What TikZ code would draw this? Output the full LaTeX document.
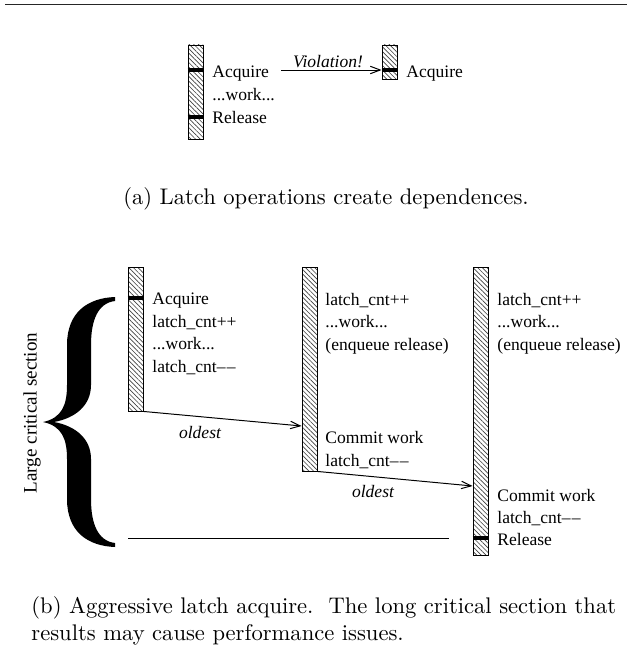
\documentclass[tikz,border=0pt]{standalone}
\usepackage{fontspec}
\newfontfamily\tms{Liberation Serif}
\usetikzlibrary{patterns.meta,fit,arrows.meta}
\newcommand{\dd}{\textendash\kern0.6pt\textendash}
\begin{document}
\begin{tikzpicture}[x=0.456pt,y=-0.456pt,
  bar/.style={draw=black, line width=0.4pt, inner sep=0pt,
    pattern={Lines[angle=-45,distance=1.5pt,line width=0.3pt]}, pattern color=black!75},
  txt/.style={font=\tms\fontsize{8}{10}\selectfont, inner sep=0pt, anchor=west,
    text height=1.45ex, text depth=0.3ex},
  itx/.style={font=\tms\itshape\fontsize{8}{10}\selectfont, inner sep=0pt},
  markln/.style={line width=1.4pt},
  arr/.style={line width=0.45pt, -{Straight Barb[length=4.5pt,width=3.4pt]}},
  captext/.style={font=\fontsize{10.3}{12.4}\selectfont, inner sep=0pt}]
\useasboundingbox (0,0) rectangle (627,646);
% top rule
\coordinate (r1) at (5,4.5);
\coordinate (r2) at (627,4.5);
\draw[line width=0.7pt, black!85] (r1) -- (r2);

% ---------- (a) ----------
\node[bar, fit={(188,45) (203,139)}] (la) {};
\node[bar, fit={(382,45) (397,79)}] (ra) {};
\draw[markln] (la.west |- 0,70) -- (la.east |- 0,70);
\draw[markln] (la.west |- 0,117) -- (la.east |- 0,117);
\draw[markln] (ra.west |- 0,70) -- (ra.east |- 0,70);
\node[txt] (aacq) at (212,72) {Acquire};
\node[txt] (awork) at (212,95) {...work...};
\node[txt] (arel) at (212,118) {Release};
\node[txt] (aacq2) at (406,72) {Acquire};
\coordinate (vstart) at (281,70);
\draw[arr] (vstart) -- (ra.west |- 0,70);
\node[itx, anchor=base] (viol) at (328,67.5) {Violation!};
\node[captext] (capa) at (326,199) {(a) Latch operations create dependences.};

% ---------- (b) ----------
\node[bar, fit={(128,267) (143,411)}] (b1) {};
\node[bar, fit={(302,267) (317,471)}] (b2) {};
\node[bar, fit={(473,267) (488,555)}] (b3) {};
\draw[markln] (b1.west |- 0,298) -- (b1.east |- 0,298);
\draw[markln] (b3.west |- 0,538) -- (b3.east |- 0,538);

\node[txt] (t11) at (152,299) {Acquire};
\node[txt] (t12) at (152,322) {latch\_cnt++};
\node[txt] (t13) at (152,344) {...work...};
\node[txt] (t14) at (152,367) {latch\_cnt\dd};

\node[txt] (t21) at (325,300) {latch\_cnt++};
\node[txt] (t22) at (325,322) {...work...};
\node[txt] (t23) at (325,345) {(enqueue release)};
\node[txt] (t24) at (325,438) {Commit work};
\node[txt] (t25) at (325,461) {latch\_cnt\dd};

\node[txt] (t31) at (497,300) {latch\_cnt++};
\node[txt] (t32) at (497,322) {...work...};
\node[txt] (t33) at (497,345) {(enqueue release)};
\node[txt] (t34) at (497,496) {Commit work};
\node[txt] (t35) at (497,518) {latch\_cnt\dd};
\node[txt] (t36) at (497,540) {Release};

\draw[arr] (b1.south east) -- (b2.west |- 0,426);
\draw[arr] (b2.south east) -- (b3.west |- 0,486);
\node[itx] (old1) at (200,432) {oldest};
\node[itx] (old2) at (373,491) {oldest};

\coordinate (h1) at (128,538);
\coordinate (h2) at (449,538);
\draw[line width=0.45pt] (h1) -- (h2);

% brace
\fill[black] (43,422) .. controls (62,418) and (67,405) .. (67,385)
  -- (67,345) .. controls (67,312) and (88,298) .. (115,297)
  -- (115,301) .. controls (98,303) and (91,320) .. (91,345)
  -- (91,385) .. controls (91,405) and (76,418) .. (54,422)
  .. controls (76,426) and (91,439) .. (91,459)
  -- (91,499) .. controls (91,524) and (98,541) .. (115,543)
  -- (115,547) .. controls (88,546) and (67,532) .. (67,499)
  -- (67,459) .. controls (67,439) and (62,426) .. (43,422) -- cycle;
\node[font=\tms\fontsize{8.7}{10}\selectfont, rotate=90, inner sep=0pt] (lcs) at (32,413) {Large critical section};

\node[captext, anchor=west, align=left] (capb) at (31,621)
  {(b) Aggressive latch acquire.\ \ The long critical section that\\
   results may cause performance issues.};
\end{tikzpicture}
\end{document}
